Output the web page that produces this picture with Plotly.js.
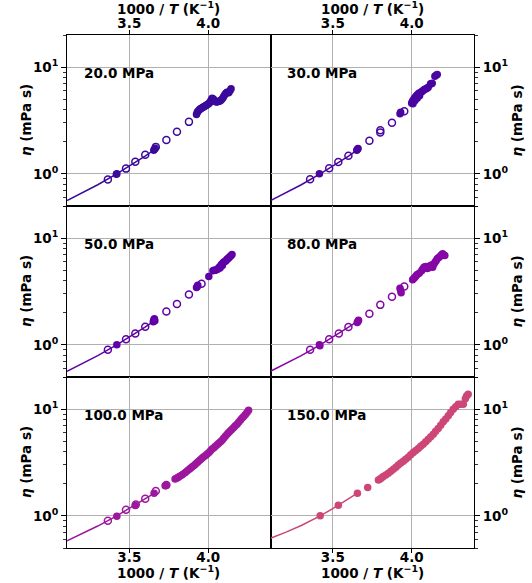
<!DOCTYPE html>
<html>
<head>
<meta charset="utf-8">
<script src="https://cdn.plot.ly/plotly-3.0.1.min.js"></script>
<style>
  html, body { margin: 0; padding: 0; background: #ffffff; }
  #chart { width: 532px; height: 583px; }
</style>
</head>
<body>
<div id="chart"></div>
<script>
// Viscosity vs inverse temperature, one panel per pressure.

const pressures = [20.0, 30.0, 50.0, 80.0, 100.0, 150.0];
const panelColors = ['#3b0a9b', '#4a04a0', '#5e01a6', '#8606a6', '#9c179e', '#cc4778'];

// --- 20 MPa ---
const p20_open_x = [3.364, 3.479, 3.538, 3.601, 3.668, 3.735, 3.802, 3.878];
const p20_open_y = [0.885, 1.12, 1.30, 1.51, 1.79, 2.08, 2.48, 3.07];
const p20_fill_x = [3.421, 3.418, 3.655, 3.660, 3.664, 3.926, 3.930, 3.934, 3.941, 3.946, 3.951, 3.957, 3.962, 3.967, 3.972, 3.978, 3.983, 3.988, 3.993, 3.998, 4.004, 4.009, 4.014, 4.020, 4.025, 4.030, 4.035, 4.041, 4.046, 4.052, 4.058, 4.063, 4.070, 4.077, 4.084, 4.092, 4.098, 4.105, 4.112, 4.119, 4.125, 4.130, 4.138, 4.145];
const p20_fill_y = [1.00, 0.99, 1.66, 1.70, 1.74, 3.60, 3.75, 3.85, 3.94, 4.00, 4.07, 4.12, 4.16, 4.20, 4.25, 4.30, 4.34, 4.40, 4.43, 4.50, 4.56, 4.65, 4.76, 4.95, 5.12, 5.05, 4.97, 4.85, 4.76, 4.72, 4.74, 4.76, 4.80, 4.83, 4.95, 5.12, 5.30, 5.50, 5.68, 5.83, 5.78, 5.75, 6.00, 6.26];
const p20_line_x = [3.105, 3.20, 3.30, 3.42, 3.50, 3.60, 3.665];
const p20_line_y = [0.562, 0.660, 0.791, 1.00, 1.18, 1.47, 1.71];

// --- 30 MPa ---
const p30_open_x = [3.356, 3.477, 3.535, 3.599, 3.732, 3.801, 3.801, 3.875, 3.953];
const p30_open_y = [0.89, 1.13, 1.29, 1.48, 2.04, 2.44, 2.56, 3.01, 3.86];
const p30_fill_x = [3.415, 3.652, 3.656, 3.660, 3.926, 3.930, 4.000, 4.003, 4.006, 4.008, 4.010, 4.015, 4.019, 4.020, 4.023, 4.027, 4.032, 4.035, 4.037, 4.042, 4.047, 4.050, 4.053, 4.059, 4.065, 4.071, 4.078, 4.084, 4.091, 4.098, 4.105, 4.120, 4.125, 4.130, 4.147, 4.155, 4.162];
const p30_fill_y = [1.00, 1.66, 1.70, 1.73, 3.65, 3.78, 4.59, 4.70, 4.79, 4.55, 4.90, 5.05, 5.12, 4.85, 5.22, 5.30, 5.42, 5.10, 5.50, 5.62, 5.68, 5.40, 5.74, 5.82, 5.91, 6.00, 6.13, 6.20, 6.26, 6.35, 6.48, 6.97, 7.00, 7.06, 8.22, 8.40, 8.53];
const p30_line_x = [3.105, 3.20, 3.30, 3.42, 3.50, 3.60, 3.66];
const p30_line_y = [0.562, 0.660, 0.791, 1.00, 1.18, 1.47, 1.70];

// --- 50 MPa ---
const p50_open_x = [3.364, 3.479, 3.538, 3.601, 3.735, 3.802, 3.878, 3.958];
const p50_open_y = [0.90, 1.13, 1.28, 1.48, 2.05, 2.42, 2.96, 3.73];
const p50_fill_x = [3.421, 3.652, 3.655, 3.659, 3.662, 3.926, 3.931, 3.934, 4.004, 4.030, 4.037, 4.045, 4.052, 4.060, 4.068, 4.075, 4.075, 4.080, 4.084, 4.090, 4.090, 4.096, 4.102, 4.109, 4.115, 4.120, 4.125, 4.130, 4.137, 4.144, 4.151];
const p50_fill_y = [1.00, 1.65, 1.71, 1.76, 1.68, 3.45, 3.52, 3.62, 4.37, 4.95, 5.00, 5.00, 5.05, 5.10, 5.30, 5.40, 5.25, 5.50, 5.66, 5.75, 5.55, 5.90, 6.00, 6.08, 6.20, 6.35, 6.45, 6.53, 6.70, 6.85, 7.02];
const p50_line_x = [3.105, 3.20, 3.30, 3.42, 3.50, 3.60, 3.66];
const p50_line_y = [0.566, 0.662, 0.792, 1.00, 1.18, 1.47, 1.69];

// --- 80 MPa ---
const p80_open_x = [3.356, 3.477, 3.538, 3.599, 3.732, 3.801, 3.875, 3.953];
const p80_open_y = [0.90, 1.13, 1.28, 1.47, 1.96, 2.37, 2.82, 3.52];
const p80_fill_x = [3.415, 3.418, 3.655, 3.660, 3.663, 3.926, 3.930, 3.933, 4.006, 4.013, 4.021, 4.028, 4.035, 4.048, 4.063, 4.070, 4.078, 4.085, 4.091, 4.098, 4.105, 4.112, 4.120, 4.127, 4.133, 4.140, 4.148, 4.155, 4.162, 4.170, 4.180, 4.188, 4.196, 4.200, 4.210];
const p80_fill_y = [1.00, 0.98, 1.62, 1.66, 1.70, 3.39, 3.23, 3.07, 4.07, 4.18, 4.30, 4.43, 4.56, 4.69, 4.95, 5.15, 5.34, 5.38, 5.42, 5.20, 5.26, 5.45, 5.53, 5.60, 5.34, 5.70, 5.95, 6.15, 6.40, 6.55, 6.73, 6.95, 7.13, 7.00, 6.87];
const p80_line_x = [3.105, 3.20, 3.30, 3.42, 3.50, 3.60, 3.66];
const p80_line_y = [0.566, 0.662, 0.792, 1.00, 1.18, 1.47, 1.68];

// --- 100 MPa ---
const p100_open_x = [3.364, 3.479, 3.541, 3.601, 3.668, 3.735];
const p100_open_y = [0.90, 1.14, 1.28, 1.45, 1.71, 1.95];
const p100_fill_x = [3.421, 3.538, 3.657, 3.727, 3.731, 3.790, 3.800, 3.808, 3.815, 3.828, 3.840, 3.855, 3.868, 3.880, 3.890, 3.899, 3.910, 3.920, 3.931, 3.941, 3.952, 3.962, 3.972, 3.983, 3.994, 4.005, 4.015, 4.025, 4.036, 4.046, 4.057, 4.067, 4.078, 4.088, 4.098, 4.109, 4.120, 4.130, 4.141, 4.151, 4.162, 4.172, 4.183, 4.193, 4.204, 4.214, 4.225, 4.236, 4.246, 4.256];
const p100_fill_y = [0.99, 1.25, 1.63, 1.91, 1.93, 2.21, 2.25, 2.29, 2.32, 2.39, 2.46, 2.55, 2.64, 2.73, 2.81, 2.88, 2.97, 3.06, 3.16, 3.26, 3.37, 3.48, 3.58, 3.68, 3.79, 3.93, 4.07, 4.22, 4.35, 4.49, 4.63, 4.78, 4.95, 5.12, 5.33, 5.57, 5.83, 6.05, 6.27, 6.49, 6.74, 6.98, 7.23, 7.55, 7.88, 8.22, 8.55, 8.92, 9.29, 9.77];
const p100_line_x = [3.105, 3.20, 3.30, 3.42, 3.50, 3.60, 3.66];
const p100_line_y = [0.583, 0.678, 0.803, 1.00, 1.17, 1.44, 1.63];

// --- 150 MPa ---
const p150_open_x = [];
const p150_open_y = [];
const p150_fill_x = [3.420, 3.535, 3.656, 3.721, 3.789, 3.800, 3.810, 3.820, 3.836, 3.852, 3.868, 3.884, 3.900, 3.915, 3.931, 3.947, 3.962, 3.978, 3.994, 4.010, 4.026, 4.042, 4.057, 4.073, 4.089, 4.105, 4.121, 4.137, 4.152, 4.168, 4.184, 4.200, 4.216, 4.232, 4.247, 4.263, 4.279, 4.295, 4.310, 4.327, 4.340, 4.348, 4.358];
const p150_fill_y = [1.00, 1.26, 1.63, 1.84, 2.17, 2.22, 2.28, 2.34, 2.42, 2.51, 2.62, 2.74, 2.86, 2.99, 3.12, 3.25, 3.40, 3.55, 3.73, 3.92, 4.09, 4.27, 4.48, 4.70, 4.96, 5.23, 5.52, 5.83, 6.20, 6.58, 7.08, 7.60, 8.10, 8.65, 9.30, 10.0, 10.5, 11.1, 11.1, 11.1, 12.5, 13.3, 13.8];
const p150_line_x = [3.105, 3.20, 3.30, 3.42, 3.50, 3.60, 3.656];
const p150_line_y = [0.618, 0.700, 0.813, 1.00, 1.17, 1.44, 1.63];

const xTickVals = [3.5, 4.0];
const xTickText = ['<b>3.5</b>', '<b>4.0</b>'];
const yTickVals = [1, 10];
const yTickText = ['<b>10<sup>0</sup></b>', '<b>10<sup>1</sup></b>'];
const yMinorVals = [0.5, 0.6, 0.7, 0.8, 0.9, 2, 3, 4, 5, 6, 7, 8, 9, 20];
const xTitle = '<b>1000 / <i>T</i> (K<sup>−1</sup>)</b>';
const yTitle = '<b><i>η</i> (mPa s)</b>';

const panels = [
  {open: [p20_open_x, p20_open_y], fill: [p20_fill_x, p20_fill_y], line: [p20_line_x, p20_line_y]},
  {open: [p30_open_x, p30_open_y], fill: [p30_fill_x, p30_fill_y], line: [p30_line_x, p30_line_y]},
  {open: [p50_open_x, p50_open_y], fill: [p50_fill_x, p50_fill_y], line: [p50_line_x, p50_line_y]},
  {open: [p80_open_x, p80_open_y], fill: [p80_fill_x, p80_fill_y], line: [p80_line_x, p80_line_y]},
  {open: [p100_open_x, p100_open_y], fill: [p100_fill_x, p100_fill_y], line: [p100_line_x, p100_line_y]},
  {open: [p150_open_x, p150_open_y], fill: [p150_fill_x, p150_fill_y], line: [p150_line_x, p150_line_y]}
];

const FONT = 'DejaVu Sans, Liberation Sans, sans-serif';
const baseFont = {family: FONT, size: 13.5, color: '#000000', weight: 'bold'};

// plot area in pixels: left 67, right 474, top 35, bottom 548
const PL = 67, PR = 474, PT = 35, PB = 548;
const px2paperX = (p) => (p - PL) / (PR - PL);
const px2paperY = (p) => (PB - p) / (PB - PT);

const traces = [];
const layout = {
  width: 532,
  height: 583,
  margin: {l: PL, r: 532 - PR, t: PT, b: 583 - PB},
  paper_bgcolor: '#ffffff',
  plot_bgcolor: '#ffffff',
  showlegend: false,
  font: baseFont,
  annotations: []
};

panels.forEach((p, i) => {
  const row = Math.floor(i / 2);
  const col = i % 2;
  const n = i + 1;
  const xa = n === 1 ? 'x' : 'x' + n;
  const ya = n === 1 ? 'y' : 'y' + n;
  const color = panelColors[i];

  traces.push({
    x: p.line[0], y: p.line[1], xaxis: xa, yaxis: ya,
    mode: 'lines', line: {color: color, width: 1.5}, hoverinfo: 'skip'
  });
  traces.push({
    x: p.open[0], y: p.open[1], xaxis: xa, yaxis: ya,
    mode: 'markers',
    marker: {symbol: 'circle-open', size: 7, color: color, line: {color: color, width: 1.5}}
  });
  traces.push({
    x: p.fill[0], y: p.fill[1], xaxis: xa, yaxis: ya,
    mode: 'markers',
    marker: {symbol: 'circle', size: 7.5, color: color, line: {width: 0}}
  });

  const xd = col === 0 ? [0, 0.5] : [0.5, 1];
  const yd = [[2 / 3, 1], [1 / 3, 2 / 3], [0, 1 / 3]][row];

  const showX = row !== 1;
  layout['xaxis' + (n === 1 ? '' : n)] = {
    domain: xd,
    anchor: ya,
    range: [3.105, 4.395],
    tickvals: xTickVals,
    ticktext: xTickText,
    showticklabels: showX,
    side: row === 0 ? 'top' : 'bottom',
    ticks: showX ? 'outside' : '',
    ticklen: 4,
    tickwidth: 1,
    tickcolor: '#000000',
    tickfont: baseFont,
    ticklabelstandoff: row === 0 ? -3 : -7,
    showgrid: true,
    gridcolor: '#b0b0b0',
    gridwidth: 1,
    zeroline: false,
    showline: true,
    linecolor: '#000000',
    linewidth: 1,
    mirror: true
  };

  layout['yaxis' + (n === 1 ? '' : n)] = {
    domain: yd,
    anchor: xa,
    type: 'log',
    range: [Math.log10(0.5), Math.log10(20)],
    tickvals: yTickVals,
    ticktext: yTickText,
    side: col === 0 ? 'left' : 'right',
    ticks: 'outside',
    ticklen: 5,
    tickwidth: 1,
    tickcolor: '#000000',
    tickfont: baseFont,
    minor: {tickvals: yMinorVals, ticks: 'outside', ticklen: 3, tickwidth: 0.8, tickcolor: '#000000', showgrid: false},
    showgrid: true,
    gridcolor: '#b0b0b0',
    gridwidth: 1,
    zeroline: false,
    showline: true,
    linecolor: '#000000',
    linewidth: 1,
    mirror: true
  };

  // pressure label inside each panel
  layout.annotations.push({
    xref: xa + ' domain', yref: ya + ' domain',
    x: 0.072, y: 0.78, xanchor: 'left', yanchor: 'middle',
    text: '<b>' + pressures[i].toFixed(1) + ' MPa</b>',
    showarrow: false,
    font: baseFont
  });

  // y-axis title on the outer side of each panel
  layout.annotations.push({
    xref: 'paper', yref: 'paper',
    x: col === 0 ? px2paperX(25.5) : px2paperX(516),
    y: (yd[0] + yd[1]) / 2,
    xanchor: 'center', yanchor: 'middle',
    textangle: -90,
    text: yTitle,
    showarrow: false,
    font: baseFont
  });
});

// x-axis titles above the top row and below the bottom row
[0.25, 0.75].forEach((cx) => {
  layout.annotations.push({
    xref: 'paper', yref: 'paper', x: cx, y: px2paperY(19),
    xanchor: 'center', yanchor: 'bottom',
    text: xTitle, showarrow: false, font: baseFont
  });
  layout.annotations.push({
    xref: 'paper', yref: 'paper', x: cx, y: px2paperY(583),
    xanchor: 'center', yanchor: 'bottom',
    text: xTitle, showarrow: false, font: baseFont
  });
});

Plotly.newPlot('chart', traces, layout, {displayModeBar: false, staticPlot: true});
</script>
</body>
</html>
